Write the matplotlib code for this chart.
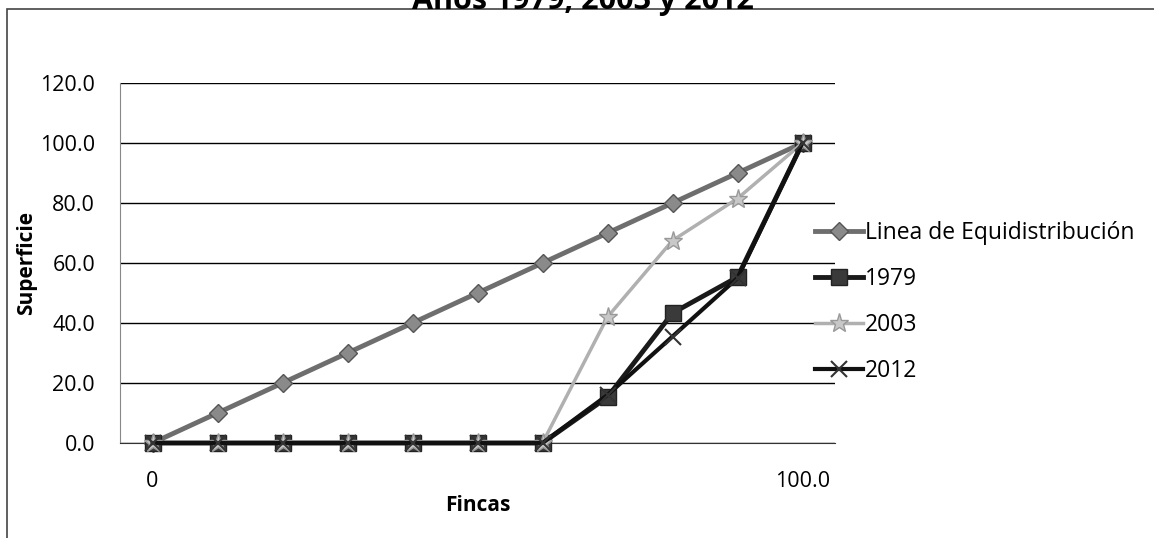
import numpy as np
import matplotlib.pyplot as plt
from matplotlib.patches import Rectangle

plt.rcParams['font.family'] = ['Open Sans', 'DejaVu Sans']

# Curva de Lorenz - fincas vs superficie
categorias = ['0', '', '', '', '', '', '', '', '', '', '100.0']
equidistribucion = [0, 10, 20, 30, 40, 50, 60, 70, 80, 90, 100]
s1979 = [0, 0, 0, 0, 0, 0, 0, 15.3, 43.3, 55.3, 100]
s2003 = [0, 0, 0, 0, 0, 0, 0, 42.0, 67.5, 81.5, 100]
s2012 = [0, 0, 0, 0, 0, 0, 0, 16.0, 35.5, 55.0, 100]
yticks = [0, 20, 40, 60, 80, 100, 120]

fig = plt.figure(figsize=(11.54, 5.38), dpi=100)
ax = fig.add_axes([120/1154, 1-443/538, (835-120)/1154, 360/538])

x = np.arange(len(categorias))
ax.plot(x, equidistribucion, color='#6e6e6e', lw=3.5, marker='D', ms=9,
        mfc='#8a8a8a', mec='#555555', label='Linea de Equidistribución', zorder=3, clip_on=False)
ax.plot(x, s1979, color='#1a1a1a', lw=3.5, marker='s', ms=12,
        mfc='#3a3a3a', mec='#222222', label='1979', zorder=4, clip_on=False)
ax.plot(x, s2003, color='#b0b0b0', lw=2.5, marker='*', ms=14,
        mfc='#c8c8c8', mec='#999999', label='2003', zorder=5, clip_on=False)
ax.plot(x, s2012, color='#111111', lw=3, marker='x', ms=12, mew=1.5,
        mec='#333333', label='2012', zorder=6, clip_on=False)

ax.set_xlim(-0.5, len(categorias) - 0.5)
ax.set_ylim(0, 120)
ax.set_yticks(yticks)
ax.set_yticklabels([f'{v:.1f}' for v in yticks], fontsize=15.5)
ax.set_xticks(x)
ax.set_xticklabels(categorias, fontsize=15.5)
ax.tick_params(length=0)
ax.tick_params(axis='x', pad=20)
ax.tick_params(axis='y', pad=18)
ax.grid(axis='y', color='black', lw=1)
ax.set_axisbelow(True)
for s in ['top', 'right']:
    ax.spines[s].set_visible(False)
ax.spines['left'].set_color('#888888')
ax.spines['bottom'].set_color('#333333')

ax.set_xlabel('Fincas', fontsize=15, fontweight='bold', labelpad=2)
ax.set_ylabel('Superficie', fontsize=15, fontweight='bold', labelpad=2)

fig.legend(loc='center left', bbox_to_anchor=(794/1154, 1-302/538), frameon=False,
           fontsize=16.5, handlelength=2.1, handletextpad=0.1, labelspacing=0.95)

# borde del grafico y titulo cortado
fig.patches.append(Rectangle((7/1154, -0.1), 1.2, 1-9/538+0.1, transform=fig.transFigure,
                             fill=False, ec='#444444', lw=1.2))
fig.text(583/1154, 1-1/538, 'Años 1979, 2003 y 2012', ha='center', va='center',
         fontsize=22, fontweight='bold')

fig.savefig('out.png', dpi=100)
